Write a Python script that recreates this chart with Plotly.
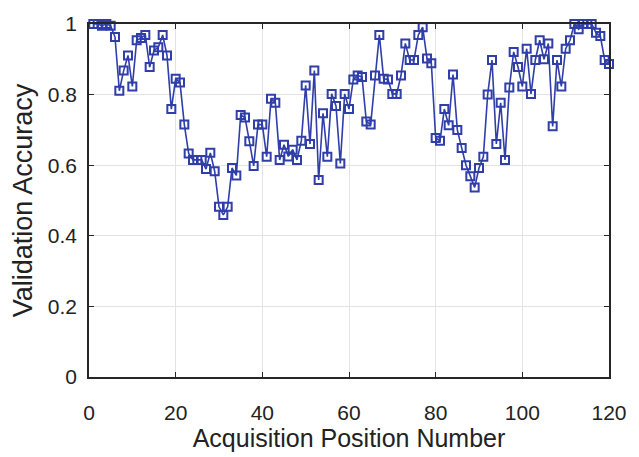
import plotly.graph_objects as go

# Validation accuracy at each acquisition position
positions = list(range(1, 121))
accuracy = [
    1.000, 1.000, 0.995, 1.000, 0.995, 0.963, 0.811, 0.868, 0.911, 0.823,
    0.954, 0.960, 0.969, 0.878, 0.925, 0.934, 0.969, 0.911, 0.759, 0.845,
    0.834, 0.715, 0.633, 0.615, 0.615, 0.615, 0.589, 0.635, 0.583, 0.482,
    0.459, 0.482, 0.592, 0.571, 0.742, 0.735, 0.668, 0.598, 0.715, 0.715,
    0.624, 0.788, 0.777, 0.615, 0.658, 0.625, 0.644, 0.615, 0.669, 0.826,
    0.660, 0.868, 0.558, 0.747, 0.624, 0.802, 0.768, 0.605, 0.802, 0.759,
    0.843, 0.854, 0.850, 0.724, 0.715, 0.854, 0.969, 0.845, 0.843, 0.802,
    0.802, 0.854, 0.945, 0.898, 0.898, 0.969, 0.991, 0.902, 0.889, 0.677,
    0.669, 0.759, 0.713, 0.857, 0.700, 0.649, 0.600, 0.569, 0.537, 0.592,
    0.624, 0.800, 0.898, 0.660, 0.777, 0.615, 0.820, 0.921, 0.878, 0.823,
    0.930, 0.802, 0.898, 0.954, 0.900, 0.945, 0.710, 0.898, 0.823, 0.930,
    0.954, 1.000, 0.985, 1.000, 1.000, 1.000, 0.975, 0.966, 0.898, 0.887,
]

x_ticks = [0, 20, 40, 60, 80, 100, 120]
y_ticks = [0, 0.2, 0.4, 0.6, 0.8, 1]
y_tick_text = ["0", "0.2", "0.4", "0.6", "0.8", "1"]

blue = "#2f3ea8"
font_family = "Liberation Sans, Arial"
text_color = "#222222"

fig = go.Figure(
    go.Scatter(
        x=positions,
        y=accuracy,
        mode="lines+markers",
        line=dict(color=blue, width=1.6),
        marker=dict(symbol="square-open", size=8, color=blue, line=dict(width=2, color=blue)),
        cliponaxis=False,
    )
)

axis_common = dict(
    showline=True,
    linecolor="#262626",
    linewidth=1.5,
    mirror="ticks",
    ticks="inside",
    ticklen=5,
    tickcolor="#262626",
    showgrid=True,
    gridcolor="#e3e3e3",
    gridwidth=1,
    zeroline=False,
    tickfont=dict(family=font_family, size=21, color=text_color),
)

fig.update_layout(
    width=639,
    height=457,
    margin=dict(l=89, r=20, t=17, b=74),
    paper_bgcolor="white",
    plot_bgcolor="white",
    showlegend=False,
    xaxis=dict(
        range=[0, 120],
        tickvals=x_ticks,
        ticklabelstandoff=16,
        title=dict(
            text="Acquisition Position Number",
            standoff=4,
            font=dict(family=font_family, size=25, color=text_color),
        ),
        **axis_common,
    ),
    yaxis=dict(
        range=[0, 1],
        tickvals=y_ticks,
        ticktext=y_tick_text,
        ticklabelstandoff=6,
        title=dict(
            text="Validation Accuracy",
            standoff=7,
            font=dict(family=font_family, size=27, color=text_color),
        ),
        **axis_common,
    ),
)

fig.write_html("out.html")
